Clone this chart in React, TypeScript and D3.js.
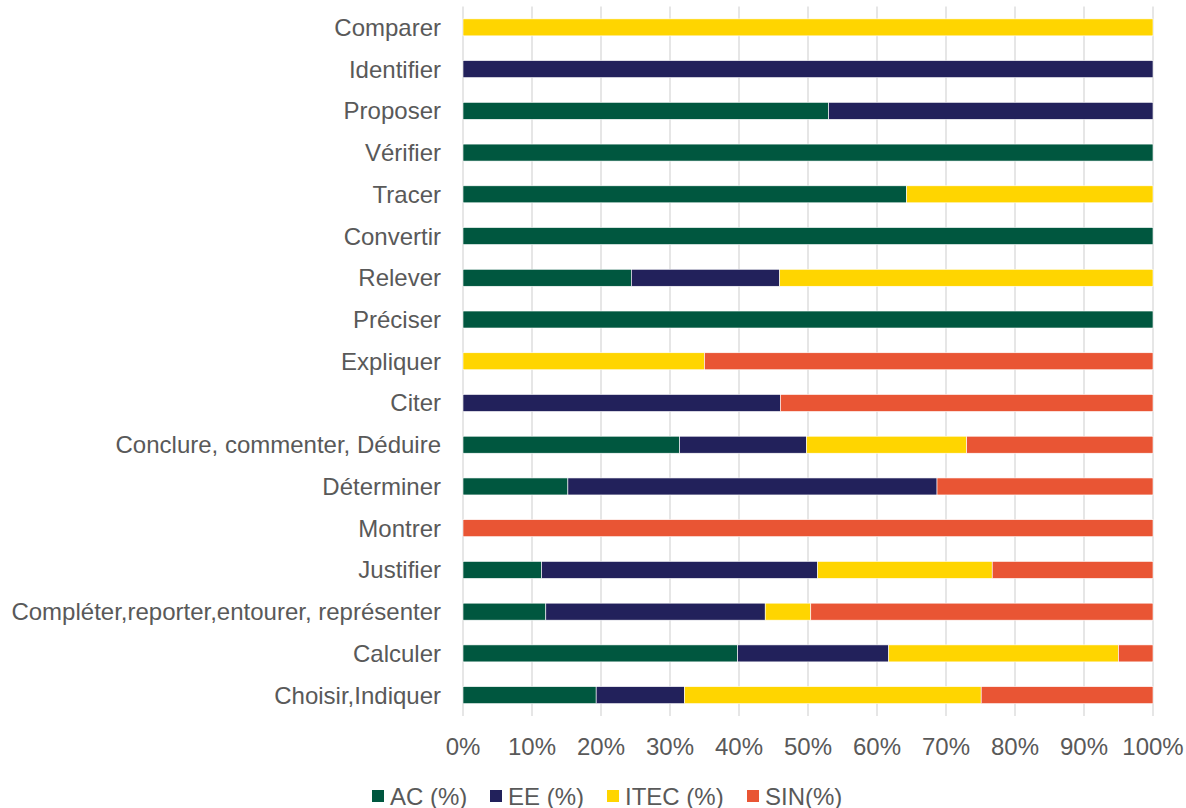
import React from "react";
import * as d3 from "d3";

const categories = [
  "Comparer",
  "Identifier",
  "Proposer",
  "Vérifier",
  "Tracer",
  "Convertir",
  "Relever",
  "Préciser",
  "Expliquer",
  "Citer",
  "Conclure, commenter, Déduire",
  "Déterminer",
  "Montrer",
  "Justifier",
  "Compléter,reporter,entourer, représenter",
  "Calculer",
  "Choisir,Indiquer",
];

const seriesNames = ["AC (%)", "EE (%)", "ITEC (%)", "SIN(%)"];
const acValues = [0, 0, 53, 100, 64.3, 100, 24.4, 100, 0, 0, 31.4, 15.2, 0, 11.4, 12, 39.8, 19.3];
const eeValues = [0, 100, 47, 0, 0, 0, 21.5, 0, 0, 46, 18.4, 53.5, 0, 40, 31.8, 21.9, 12.8];
const itecValues = [100, 0, 0, 0, 35.7, 0, 54.1, 0, 35, 0, 23.2, 0, 0, 25.3, 6.6, 33.3, 43.0];
const sinValues = [0, 0, 0, 0, 0, 0, 0, 0, 65, 54, 27, 31.3, 100, 23.3, 49.6, 5.0, 24.9];
const colors = ["#00573f", "#22215b", "#ffd500", "#e95534"];
const tickValues = [0, 0.1, 0.2, 0.3, 0.4, 0.5, 0.6, 0.7, 0.8, 0.9, 1.0];

const W = 1186;
const H = 808;
const FONT = "'Liberation Sans', Arial, sans-serif";
const TEXT = "#595959";
const FS = 24;

export default function App() {
  const rows = categories.map((c, i) => ({
    cat: c,
    [seriesNames[0]]: acValues[i],
    [seriesNames[1]]: eeValues[i],
    [seriesNames[2]]: itecValues[i],
    [seriesNames[3]]: sinValues[i],
  }));
  const stacked = d3.stack<any>().keys(seriesNames)(rows);

  const x = d3.scaleLinear().domain([0, 1]).range([463, 1153]);
  const y = d3
    .scaleBand<string>()
    .domain(categories)
    .range([6.5, 716])
    .paddingInner(0.593)
    .paddingOuter(0.2965);

  const legendOffsets = [0, 118, 235, 375];
  const legendX = 372;
  const legendY = 790;

  return (
    <svg
      width={W}
      height={H}
      style={{ position: "absolute", left: 0, top: 0, background: "#fff" }}
      fontFamily={FONT}
    >
      {tickValues.map((t, i) => (
        <line
          key={"g" + i}
          x1={x(t)}
          x2={x(t)}
          y1={6.5}
          y2={716}
          stroke="#d9d9d9"
          strokeWidth={1.3}
        />
      ))}
      {stacked.map((s, si) => (
        <g key={"s" + si} fill={colors[si]}>
          {s.map((d, i) => {
            const w = x(d[1] / 100) - x(d[0] / 100);
            if (w <= 0) return null;
            return (
              <rect
                key={i}
                x={x(d[0] / 100)}
                y={y(categories[i])}
                width={w}
                height={y.bandwidth()}
                stroke="#ffffff"
                strokeWidth={0.6}
              />
            );
          })}
        </g>
      ))}
      {categories.map((c) => (
        <text
          key={c}
          x={441}
          y={(y(c) as number) + y.bandwidth() / 2}
          textAnchor="end"
          dominantBaseline="central"
          fontSize={FS}
          fill={TEXT}
        >
          {c}
        </text>
      ))}
      {tickValues.map((t, i) => (
        <text
          key={"t" + i}
          x={x(t)}
          y={746}
          textAnchor="middle"
          dominantBaseline="central"
          fontSize={FS}
          fill={TEXT}
        >
          {d3.format(".0%")(t)}
        </text>
      ))}
      {seriesNames.map((n, i) => (
        <g key={"l" + i} transform={`translate(${legendX + legendOffsets[i]},${legendY})`}>
          <rect x={0} y={0} width={12} height={12} fill={colors[i]} />
          <text x={18} y={6} dominantBaseline="central" fontSize={FS} fill={TEXT}>
            {n}
          </text>
        </g>
      ))}
    </svg>
  );
}
